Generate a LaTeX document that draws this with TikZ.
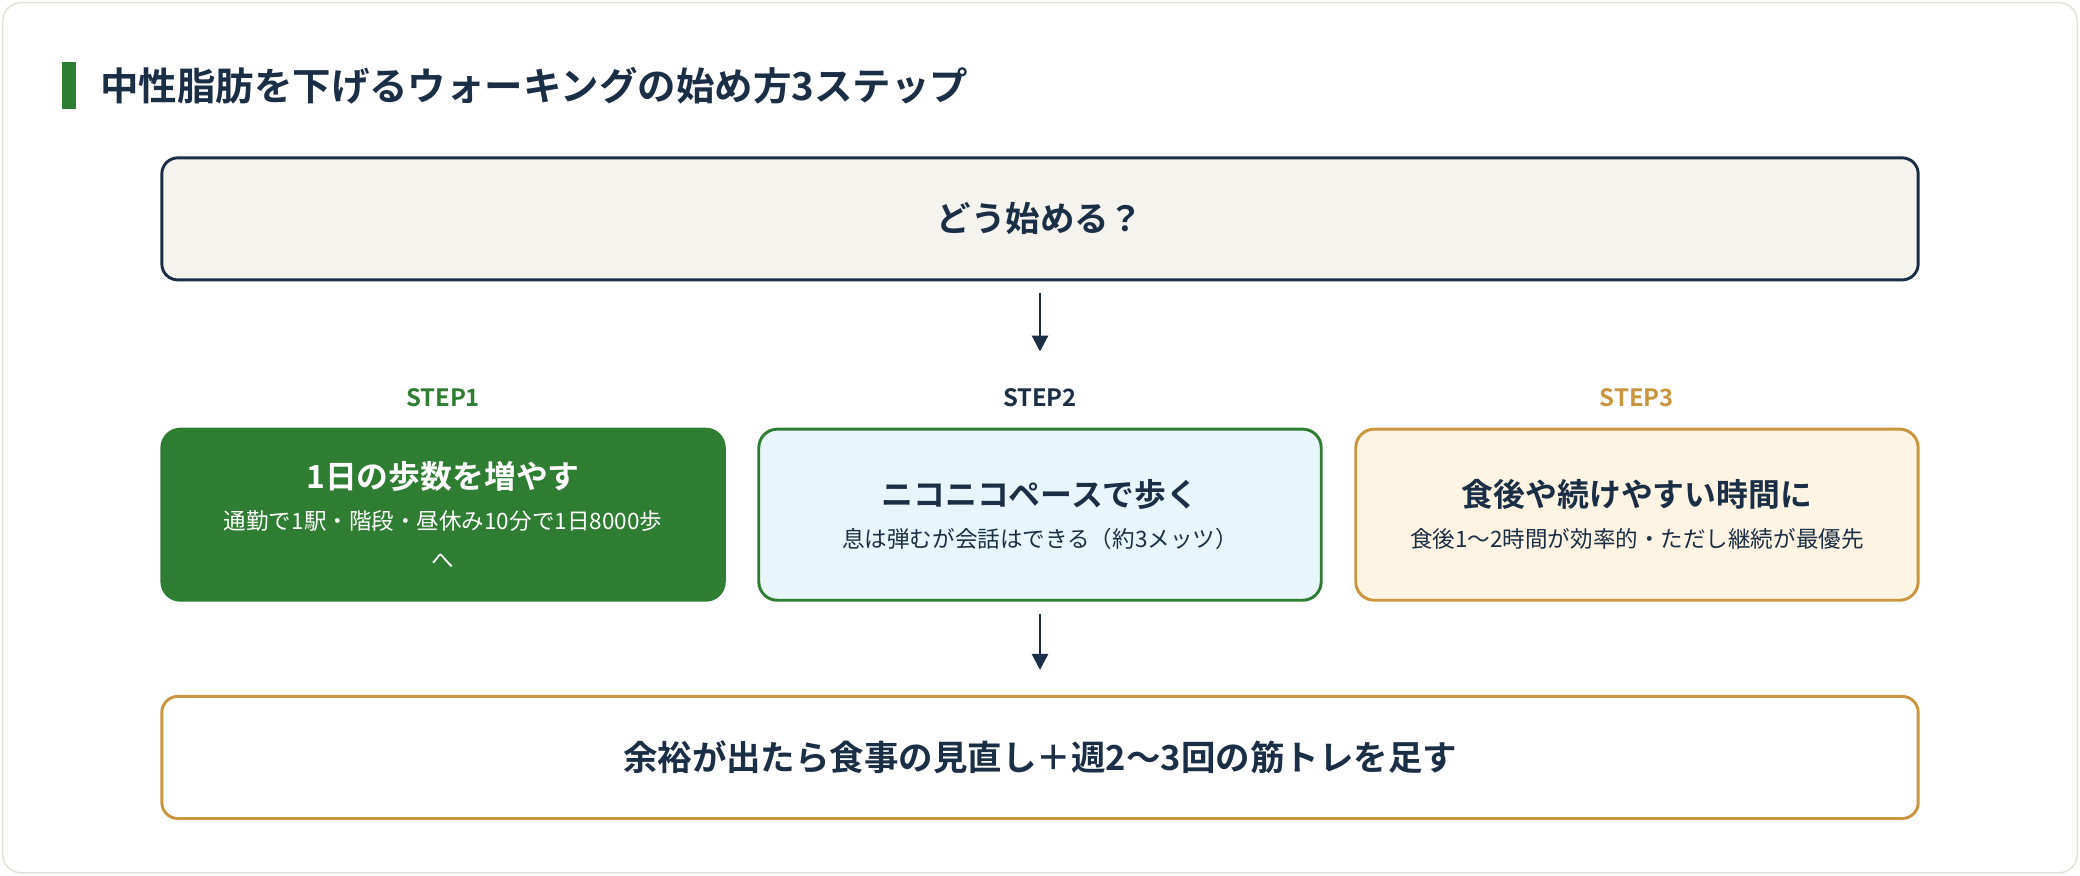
\documentclass[tikz,border=0pt]{standalone}
\usepackage{fontspec}
\setmainfont{Noto Sans CJK JP}
\newfontfamily\jpbold{Noto Sans CJK JP Bold}
\usetikzlibrary{positioning,arrows.meta}
\definecolor{navy}{HTML}{1A2E45}
\definecolor{leaf}{HTML}{2E7D32}
\definecolor{gold}{HTML}{C8963E}
\definecolor{paper}{HTML}{F5F3EE}
\definecolor{sky}{HTML}{E8F6FB}
\definecolor{cream}{HTML}{FDF4E3}
\definecolor{frame}{HTML}{E2E2D6}
\tikzset{
  widebox/.style={draw=navy, line width=2.2pt, rounded corners=12pt, minimum width=1324pt, minimum height=92pt, font=\jpbold\fontsize{26}{30}\selectfont, text=navy},
  stepbox/.style={line width=2.2pt, rounded corners=14pt, minimum width=424pt, minimum height=129pt, align=center, font=\fontsize{17}{29}\selectfont},
  steplabel/.style={font=\jpbold\fontsize{18}{20}\selectfont},
  flow/.style={-{Triangle[length=12pt,width=12pt]}, line width=2.2pt, draw=navy}
}
\newcommand{\boxtitle}[1]{{\jpbold\fontsize{24}{30}\selectfont #1}}
\begin{document}
\begin{tikzpicture}[x=1pt,y=-1pt]
    \useasboundingbox (0,0) rectangle (1568,660);
    \draw[frame, line width=1.2pt, rounded corners=14pt, fill=white] (2,2) rectangle (1566,658);
    \fill[leaf] (47,47) rectangle (57,82);
    \node[anchor=west, text=navy, font=\jpbold\fontsize{29}{32}\selectfont] (title) at (72,65) {中性脂肪を下げるウォーキングの始め方3ステップ};

    \node[widebox, fill=paper] (start) at (784,165) {どう始める？};

    \node[steplabel, text=leaf] (lab1) at (334,300) {STEP1};
    \node[steplabel, text=navy] (lab2) at (784,300) {STEP2};
    \node[steplabel, text=gold] (lab3) at (1234,300) {STEP3};

    \node[stepbox, fill=leaf, draw=leaf, text=white] (step1) at (334,388)
        {\boxtitle{1日の歩数を増やす}\\[2pt]通勤で1駅・階段・昼休み10分で1日8000歩\\へ};
    \node[stepbox, fill=sky, draw=leaf, text=navy] (step2) at (784,388)
        {\boxtitle{ニコニコペースで歩く}\\[2pt]息は弾むが会話はできる（約3メッツ）};
    \node[stepbox, fill=cream, draw=gold, text=navy] (step3) at (1234,388)
        {\boxtitle{食後や続けやすい時間に}\\[2pt]食後1〜2時間が効率的・ただし継続が最優先};

    \node[widebox, draw=gold, fill=white] (goal) at (784,571) {余裕が出たら食事の見直し＋週2〜3回の筋トレを足す};

    \coordinate (a1) at (784,221);
    \coordinate (a2) at (784,265);
    \coordinate (b1) at (784,463);
    \coordinate (b2) at (784,505);
    \draw[flow] (a1) -- (a2);
    \draw[flow] (b1) -- (b2);
\end{tikzpicture}
\end{document}
